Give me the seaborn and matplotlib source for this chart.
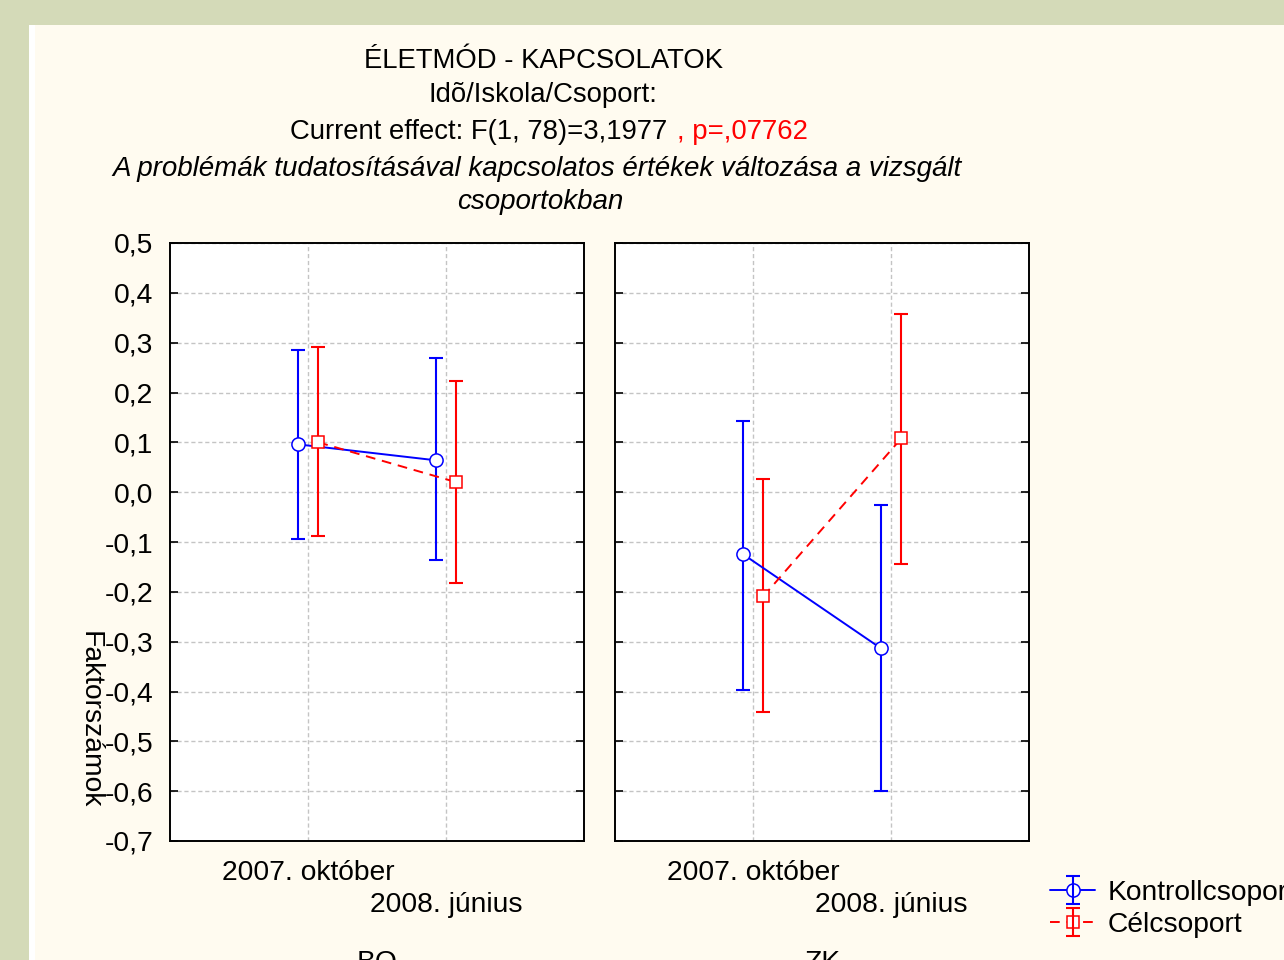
import numpy as np
import pandas as pd
import matplotlib
matplotlib.use('agg')
import matplotlib.pyplot as plt
from matplotlib.patches import Rectangle
import seaborn as sns

time_labels = ['2007. október', '2008. június']
group_names = ['Kontrollcsoport', 'Célcsoport']
school_names = ['BO', 'ZK']

# means and confidence limits
bo_kontroll_mean = [0.096, 0.064]
bo_kontroll_low = [-0.094, -0.137]
bo_kontroll_high = [0.285, 0.269]
bo_cel_mean = [0.100, 0.020]
bo_cel_low = [-0.088, -0.183]
bo_cel_high = [0.291, 0.223]

zk_kontroll_mean = [-0.124, -0.313]
zk_kontroll_low = [-0.396, -0.600]
zk_kontroll_high = [0.143, -0.026]
zk_cel_mean = [-0.209, 0.108]
zk_cel_low = [-0.442, -0.145]
zk_cel_high = [0.026, 0.357]

series = {
    ('BO', 'Kontrollcsoport'): (bo_kontroll_mean, bo_kontroll_low, bo_kontroll_high),
    ('BO', 'Célcsoport'): (bo_cel_mean, bo_cel_low, bo_cel_high),
    ('ZK', 'Kontrollcsoport'): (zk_kontroll_mean, zk_kontroll_low, zk_kontroll_high),
    ('ZK', 'Célcsoport'): (zk_cel_mean, zk_cel_low, zk_cel_high),
}

colors = {'Kontrollcsoport': '#0000ff', 'Célcsoport': '#ff0000'}
markers = {'Kontrollcsoport': 'o', 'Célcsoport': 's'}
msizes = {'Kontrollcsoport': 9.5, 'Célcsoport': 8.5}
lstyles = {'Kontrollcsoport': '-', 'Célcsoport': (0, (5, 3.5))}
offsets = {'Kontrollcsoport': -0.075, 'Célcsoport': 0.075}

rows = []
for (school, group), (means, lows, highs) in series.items():
    for i, t in enumerate(time_labels):
        rows.append(dict(school=school, group=group, time=t,
                         x=i + offsets[group], mean=means[i],
                         low=lows[i], high=highs[i]))
df = pd.DataFrame(rows)

sns.set_style('ticks')
plt.rcParams['font.family'] = ['Liberation Sans', 'DejaVu Sans']
plt.rcParams['font.size'] = 20.3
for key in ['text.color', 'axes.labelcolor', 'xtick.color', 'ytick.color']:
    plt.rcParams[key] = 'black'

W, H = 1284, 960
fig = plt.figure(figsize=(W / 100, H / 100), dpi=100, facecolor='#d4dab8')
fig.add_artist(Rectangle((29 / W, 0), 1, 1 - 25 / H, transform=fig.transFigure,
                         facecolor='#fffbf0', edgecolor='none', zorder=-2))
fig.add_artist(Rectangle((29 / W, 0), 6 / W, 1 - 25 / H, transform=fig.transFigure,
                         facecolor='white', edgecolor='none', zorder=-1))

yticks = np.arange(-7, 6) / 10
ylabels = [f'{v:.1f}'.replace('.', ',') for v in yticks]

handles = {}
ax_lefts = [170 / W, 615 / W]
for k, school in enumerate(school_names):
    ax = fig.add_axes([ax_lefts[k], 1 - 841 / H, 414 / W, 598 / H])
    ax.set_facecolor('white')
    for group in group_names:
        sub = df[(df.school == school) & (df.group == group)]
        c = colors[group]
        eb = ax.errorbar(sub.x, sub['mean'],
                         yerr=[sub['mean'] - sub.low, sub.high - sub['mean']],
                         fmt='none', ecolor=c, elinewidth=1.5, capsize=5,
                         capthick=1.5, zorder=2)
        sns.lineplot(data=sub, x='x', y='mean', ax=ax, color=c, errorbar=None,
                     marker=markers[group], markersize=msizes[group],
                     markerfacecolor='white', markeredgecolor=c,
                     markeredgewidth=1.1, linewidth=1.4,
                     linestyle=lstyles[group], zorder=3)
        handles[group] = (ax.lines[-1], eb)

    ax.set_xlim(-1, 2)
    ax.set_ylim(-0.7, 0.5)
    ax.set_xticks([0, 1])
    ax.set_xticklabels([time_labels[0], '\n' + time_labels[1]], linespacing=1.3)
    ax.set_yticks(yticks)
    ax.set_yticklabels(ylabels)
    ax.tick_params(axis='x', length=0, pad=14)
    ax.tick_params(axis='y', direction='in', length=6, width=1.2, left=True,
                   right=True, labelleft=(k == 0), pad=12)
    ax.grid(True, color='#c4c4c4', linestyle=(0, (3, 2)), linewidth=1)
    ax.set_axisbelow(True)
    for sp in ax.spines.values():
        sp.set_visible(True)
        sp.set_color('black')
        sp.set_linewidth(1.4)
    ax.set_ylabel('')
    ax.set_xlabel(school, labelpad=23)

fig.text(90 / W, 1 - 720 / H, 'Faktorszámok', rotation=270, ha='center', va='center')

fs_title = 19.8
fig.text(543 / W, 1 - 61 / H, 'ÉLETMÓD - KAPCSOLATOK', ha='center', va='center',
         fontsize=fs_title)
fig.text(543 / W, 1 - 95 / H, 'Idõ/Iskola/Csoport:', ha='center', va='center',
         fontsize=fs_title)
fig.text(667 / W, 1 - 132 / H, 'Current effect: F(1, 78)=3,1977', ha='right',
         va='center', fontsize=fs_title)
fig.text(677 / W, 1 - 132 / H, ', p=,07762', ha='left', va='center', color='#ff0000',
         fontsize=fs_title)
fig.text(537 / W, 1 - 169 / H, 'A problémák tudatosításával kapcsolatos értékek változása a vizsgált',
         ha='center', va='center', style='italic', fontsize=20)
fig.text(540 / W, 1 - 202 / H, 'csoportokban', ha='center', va='center', style='italic',
         fontsize=20)

fig.legend([handles[g] for g in group_names], group_names, loc='upper left',
           bbox_to_anchor=(1050 / W, 1 - 880 / H), frameon=False,
           handlelength=1.6, handletextpad=0.45, labelspacing=0.22,
           borderaxespad=0, borderpad=0)

fig.savefig('out.png', dpi=100, facecolor=fig.get_facecolor())
